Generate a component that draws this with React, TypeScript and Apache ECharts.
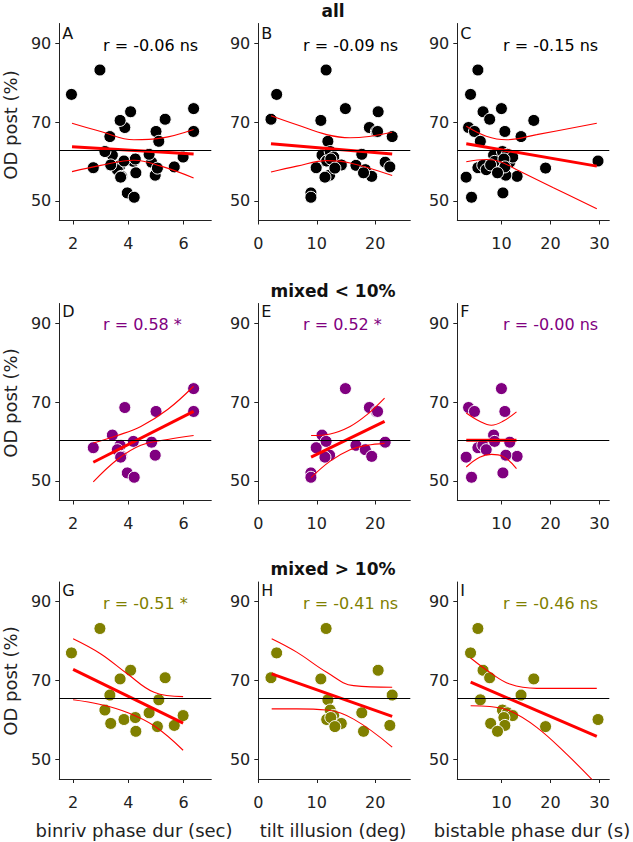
import React, { useEffect, useRef } from 'react';
import * as echarts from 'echarts';

// ---------- data ----------
const measureNames = ['binriv phase dur (sec)', 'tilt illusion (deg)', 'bistable phase dur (s)'];
const rowTitles = ['all', 'mixed < 10%', 'mixed > 10%'];
const panelLetters = ['A', 'B', 'C', 'D', 'E', 'F', 'G', 'H', 'I'];
const rLabels = [
  'r = -0.06 ns', 'r = -0.09 ns', 'r = -0.15 ns',
  'r = 0.58 *', 'r = 0.52 *', 'r = -0.00 ns',
  'r = -0.51 *', 'r = -0.41 ns', 'r = -0.46 ns',
];
const yTickValues = [50, 70, 90];
const xTickValues = [[2, 4, 6], [0, 10, 20], [10, 20, 30]];
const xRanges = [[1.5, 7], [0, 26], [1, 32]];
const yRange = [45, 95];

// mixed < 10% group
const odPostLow = [58.4, 61.6, 68.6, 59.0, 57.9, 56.2, 60.0, 52.0, 50.9, 67.6, 59.8, 56.5, 73.4, 67.6, 56.0];
const binrivLow = [2.73, 3.42, 3.87, 3.70, 3.60, 3.75, 4.18, 3.96, 4.21, 5.0, 4.84, 4.97, 6.36, 6.36, 3.72];
const tiltLow = [9.9, 10.9, 19.0, 16.7, 18.3, 19.4, 11.6, 9.0, 9.0, 20.2, 21.7, 12.2, 14.9, 20.4, 11.4];
const bistableLow = [5.2, 8.4, 3.3, 6.2, 6.9, 13.2, 8.6, 10.3, 3.9, 4.5, 11.7, 10.9, 10.0, 10.7, 2.8];

// mixed > 10% group
const odPostHigh = [77.0, 83.2, 70.4, 72.6, 70.7, 66.3, 65.1, 62.5, 61.8, 61.1, 59.1, 60.1, 60.6, 58.3, 58.6, 57.1];
const binrivHigh = [1.94, 2.97, 3.70, 4.08, 5.33, 3.33, 5.10, 3.15, 4.75, 5.98, 3.36, 3.84, 4.25, 5.05, 5.66, 4.27];
const tiltHigh = [3.14, 11.6, 10.7, 20.5, 2.17, 22.9, 11.9, 12.3, 17.7, 12.9, 14.2, 11.7, 12.4, 13.1, 22.5, 18.0];
const bistableHigh = [3.7, 5.2, 16.6, 6.25, 7.6, 14.0, 5.7, 10.2, 11.2, 12.3, 7.8, 29.7, 10.5, 19.0, 10.7, 9.2];

// horizontal reference (mean OD post) per row
const meanLines = [62.9, 60.2, 65.6];

// regression fits (thick red) per panel, endpoints [x, y]
const fitLines = [
  [[1.96, 63.7], [6.36, 61.9]],
  [[2.17, 64.5], [22.9, 61.9]],
  [[2.83, 64.5], [29.45, 58.8]],
  [[2.73, 54.7], [6.36, 67.6]],
  [[9.03, 56.0], [21.6, 65.1]],
  [[2.83, 60.3], [13.07, 60.3]],
  [[2.0, 72.8], [5.98, 59.2]],
  [[2.29, 71.7], [22.9, 60.9]],
  [[3.72, 69.6], [29.45, 55.8]],
];

// confidence bands (thin red) per panel
const ciUpper = [
  [[1.96, 69.7], [3.0, 67.6], [4.2, 65.5], [5.18, 65.9], [6.36, 68.1]],
  [[2.17, 71.6], [6.6, 69.3], [11.7, 66.8], [15.7, 66.0], [22.9, 67.4]],
  [[2.83, 68.9], [6.9, 66.4], [11.0, 65.5], [17.2, 66.8], [29.45, 69.7]],
  [[2.73, 59.6], [3.6, 61.5], [4.45, 63.8], [5.42, 68.1], [6.36, 74.0]],
  [[9.03, 61.5], [12.3, 61.9], [15.7, 63.8], [18.6, 66.8], [21.6, 71.0]],
  [[2.83, 67.2], [5.56, 65.1], [7.95, 64.1], [10.3, 65.1], [13.07, 67.5]],
  [[2.0, 80.6], [2.99, 76.8], [3.96, 71.7], [4.93, 67.0], [5.98, 65.9]],
  [[2.29, 80.6], [6.57, 77.2], [11.7, 72.1], [16.3, 68.7], [22.9, 68.3]],
  [[3.72, 75.7], [7.6, 72.1], [11.7, 69.1], [17.2, 68.0], [29.45, 68.0]],
];
const ciLower = [
  [[1.96, 57.4], [3.0, 59.0], [4.2, 60.3], [5.18, 58.8], [6.36, 55.8]],
  [[2.17, 57.3], [6.6, 58.8], [11.7, 60.2], [15.7, 59.6], [22.9, 56.4]],
  [[2.83, 59.9], [6.9, 60.5], [9.66, 60.0], [13.75, 57.5], [20.6, 53.3], [29.45, 48.0]],
  [[2.73, 49.7], [3.6, 55.4], [4.45, 59.0], [5.42, 60.5], [6.36, 61.5]],
  [[9.03, 50.8], [12.3, 55.0], [15.7, 57.9], [18.6, 59.0], [21.6, 59.5]],
  [[2.83, 53.5], [5.56, 56.0], [7.95, 56.7], [10.3, 56.2], [13.07, 53.1]],
  [[2.0, 65.1], [2.99, 63.9], [3.96, 61.9], [4.93, 58.5], [5.98, 52.3]],
  [[2.29, 62.8], [6.57, 62.8], [11.7, 62.5], [16.3, 60.2], [22.9, 53.1]],
  [[3.72, 63.6], [7.6, 63.4], [11.7, 62.3], [17.2, 58.1], [23.3, 51.3], [29.45, 43.6]],
];

// ---------- styling / layout ----------
const FONT = '"DejaVu Sans", "Liberation Sans", sans-serif';
const rowColors = ['#000000', '#800080', '#808000'];
const colLeft = [59.3, 258.3, 457.3];
const gridWidth = 152;
const rowTop = [23.5, 303.5, 582];
const gridHeight = 197;
const letterY = [33, 311, 590];
const rY = [45, 324, 603];
const rX = [103, 303, 503];
const titleY = [11, 291, 569];
const yNameY = [125, 403, 681];
const xNameX = [134, 333, 532];

function buildOption() {
  const groupsX = [
    [binrivLow.concat(binrivHigh), tiltLow.concat(tiltHigh), bistableLow.concat(bistableHigh)],
    [binrivLow, tiltLow, bistableLow],
    [binrivHigh, tiltHigh, bistableHigh],
  ];
  const groupsY = [odPostLow.concat(odPostHigh), odPostLow, odPostHigh];

  const grid: any[] = [];
  const xAxis: any[] = [];
  const yAxis: any[] = [];
  const series: any[] = [];
  const graphic: any[] = [];

  const axisLineStyle = { color: '#222', width: 1 };

  for (let r = 0; r < 3; r++) {
    for (let c = 0; c < 3; c++) {
      const i = r * 3 + c;
      grid.push({ left: colLeft[c], top: rowTop[r], width: gridWidth, height: gridHeight, containLabel: false });
      xAxis.push({
        type: 'value', gridIndex: i, min: xRanges[c][0], max: xRanges[c][1],
        splitLine: { show: false },
        axisLine: { show: true, onZero: false, lineStyle: axisLineStyle },
        axisTick: { show: true, length: 4, customValues: xTickValues[c], lineStyle: axisLineStyle },
        axisLabel: { customValues: xTickValues[c], color: '#222', fontSize: 16, fontFamily: FONT, margin: 15 },
      });
      yAxis.push({
        type: 'value', gridIndex: i, min: yRange[0], max: yRange[1],
        splitLine: { show: false },
        axisLine: { show: true, onZero: false, lineStyle: axisLineStyle },
        axisTick: { show: true, length: 4, customValues: yTickValues, lineStyle: axisLineStyle },
        axisLabel: { customValues: yTickValues, color: '#222', fontSize: 16, fontFamily: FONT, margin: 8 },
      });
      const xs = groupsX[r][c];
      const ys = groupsY[r];
      series.push({
        type: 'scatter', xAxisIndex: i, yAxisIndex: i, silent: true,
        symbolSize: 12,
        itemStyle: { color: rowColors[r], borderColor: '#ffffff', borderWidth: 1, opacity: 1 },
        data: xs.map((x, k) => [x, ys[k]]),
      });
      series.push({
        type: 'line', xAxisIndex: i, yAxisIndex: i, silent: true, symbol: 'none', smooth: 0.4,
        lineStyle: { color: '#ff0000', width: 1.1 },
        data: ciUpper[i],
        markLine: {
          silent: true, symbol: 'none', label: { show: false },
          lineStyle: { color: '#000', width: 1.2, type: 'solid' },
          data: [{ yAxis: meanLines[r] }],
        },
      });
      series.push({
        type: 'line', xAxisIndex: i, yAxisIndex: i, silent: true, symbol: 'none', smooth: 0.4,
        lineStyle: { color: '#ff0000', width: 1.1 },
        data: ciLower[i],
      });
      series.push({
        type: 'line', xAxisIndex: i, yAxisIndex: i, silent: true, symbol: 'none',
        lineStyle: { color: '#ff0000', width: 3 },
        data: fitLines[i],
      });
      graphic.push({
        type: 'text', x: colLeft[c] + 3, y: letterY[r],
        style: { text: panelLetters[i], fill: '#111', font: `16px ${FONT}`, align: 'left', verticalAlign: 'middle' },
      });
      graphic.push({
        type: 'text', x: rX[c], y: rY[r],
        style: { text: rLabels[i], fill: rowColors[r], font: `16px ${FONT}`, align: 'left', verticalAlign: 'middle' },
      });
    }
    graphic.push({
      type: 'text', x: 333, y: titleY[r],
      style: { text: rowTitles[r], fill: '#111', font: `bold 17px ${FONT}`, align: 'center', verticalAlign: 'middle' },
    });
    graphic.push({
      type: 'text', x: 10, y: yNameY[r], rotation: Math.PI / 2,
      style: { text: 'OD post (%)', fill: '#222', font: `18px ${FONT}`, align: 'center', verticalAlign: 'middle' },
    });
  }
  for (let c = 0; c < 3; c++) {
    graphic.push({
      type: 'text', x: xNameX[c], y: 830,
      style: { text: measureNames[c], fill: '#222', font: `18px ${FONT}`, align: 'center', verticalAlign: 'middle' },
    });
  }

  return {
    animation: false,
    backgroundColor: '#ffffff',
    textStyle: { fontFamily: FONT },
    grid, xAxis, yAxis, series, graphic,
  };
}

export default function App() {
  const ref = useRef<HTMLDivElement>(null);
  useEffect(() => {
    document.body.style.margin = '0';
    if (!ref.current) return;
    const chart = echarts.init(ref.current, undefined, { renderer: 'svg' });
    chart.setOption(buildOption() as any);
    return () => chart.dispose();
  }, []);
  return <div ref={ref} style={{ width: 633, height: 842 }} />;
}
